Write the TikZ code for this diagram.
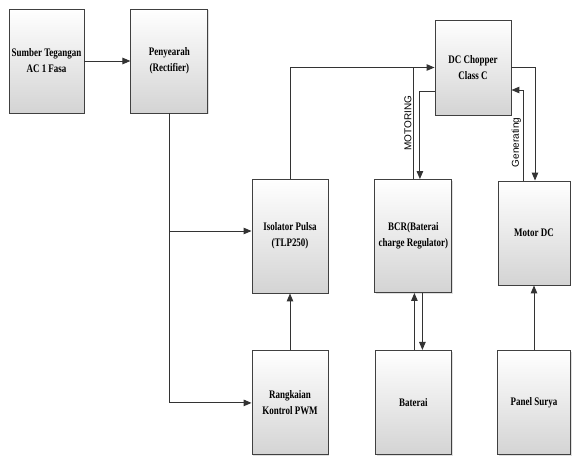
\documentclass[tikz,border=0pt]{standalone}
\usepackage{fontspec}
\setmainfont[FakeStretch=0.78]{Liberation Serif}
\newfontfamily\lblfont{Liberation Sans}
\usetikzlibrary{positioning, arrows.meta, shadows}

\tikzset{
  blok/.style={draw=black!75, line width=0.9pt, top color=white, bottom color=black!17,
    drop shadow={shadow xshift=1.2pt, shadow yshift=-1.2pt, opacity=0.25},
    align=center, font=\fontsize{11.5}{16}\selectfont\bfseries, inner sep=2pt},
  alir/.style={draw=black!80, line width=1pt, -{Triangle[length=8pt, width=6.5pt]}},
  garis/.style={draw=black!80, line width=1pt},
  ket/.style={font=\lblfont\fontsize{10}{10}\selectfont, rotate=90, anchor=south, inner sep=1.5pt},
}

\begin{document}
\begin{tikzpicture}[x=1pt, y=-1pt]
  \useasboundingbox (0,0) rectangle (572,455);
  % baris atas
  \node [blok, minimum width=75pt, minimum height=104pt] (src) at (46.5,61) {Sumber Tegangan\\AC 1 Fasa};
  \node [blok, right=46pt of src, minimum width=77pt, minimum height=104pt] (rect) {Penyearah\\(Rectifier)};
  \node [blok, minimum width=76pt, minimum height=95pt] (chop) at (473,67.5) {DC Chopper\\Class C};
  % baris tengah
  \node [blok, minimum width=76pt, minimum height=114pt] (iso) at (290,236) {Isolator Pulsa\\(TLP250)};
  \node [blok, right=46pt of iso, minimum width=77pt, minimum height=113pt] (bcr) {BCR(Baterai\\charge Regulator)};
  \node [blok, minimum width=72pt, minimum height=104pt] (mot) at (534,233) {Motor DC};
  % baris bawah
  \node [blok, below=57pt of iso, minimum width=76pt, minimum height=104pt] (pwm) {Rangkaian\\Kontrol PWM};
  \node [blok, below=57pt of bcr, minimum width=76pt, minimum height=104pt] (bat) {Baterai};
  \node [blok, below=65pt of mot, minimum width=73pt, minimum height=104pt] (pv) {Panel Surya};

  \draw [alir] (src) -- (rect);
  \draw [alir] (rect.south) |- (pwm.west);
  \draw [alir] (rect.south |- iso.west) ++(0,-5) -- ([yshift=5pt]iso.west);
  \draw [alir] (pwm) -- (iso);
  \draw [alir] (iso.north) |- (chop.west);
  \draw [garis] (bcr.north) -- node [ket] {MOTORING} (bcr.north |- chop.west);
  \draw [alir] ([yshift=-23.5pt]chop.west) -| ([xshift=6.5pt]bcr.north);
  \draw [alir] (chop.east) -| ([xshift=1pt]mot.north);
  \draw [alir] ([xshift=-11pt]mot.north) |- node [ket, pos=0.21] {Generating} ([yshift=-22.5pt]chop.east);
  \draw [alir] ([xshift=1pt]bat.north) -- ([xshift=1pt]bat.north |- bcr.south);
  \draw [alir] ([xshift=9pt]bat.north |- bcr.south) -- ([xshift=9pt]bat.north);
  \draw [alir] (pv) -- (mot);
\end{tikzpicture}
\end{document}
